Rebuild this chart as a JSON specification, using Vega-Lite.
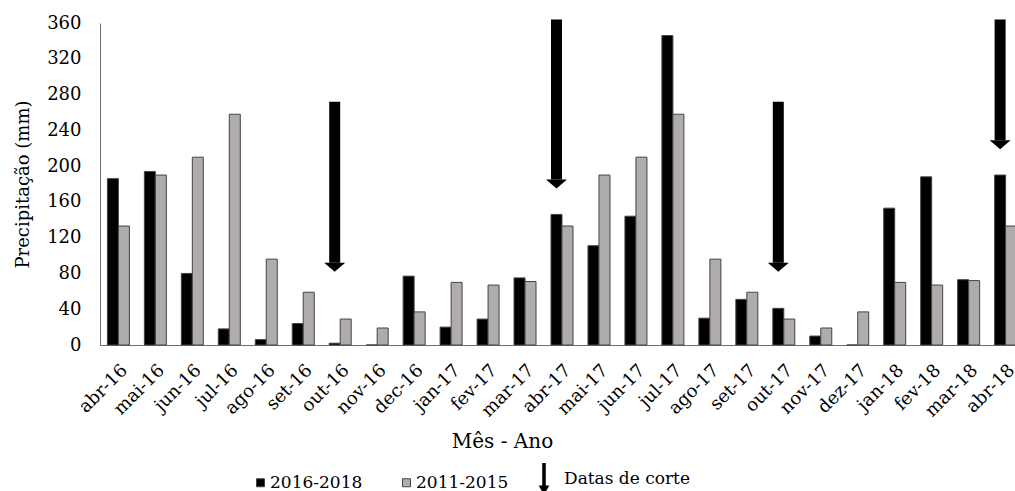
{
  "$schema": "https://vega.github.io/schema/vega-lite/v6.json",
  "width": 915,
  "height": 322,
  "autosize": {"type": "none"},
  "padding": {"left": 100, "top": 23, "right": 0, "bottom": 146},
  "config": {
    "font": "DejaVu Serif",
    "view": {"stroke": null},
    "axis": {"labelColor": "black", "titleColor": "black", "titleFontWeight": "normal", "domainColor": "#6e6e6e", "ticks": false, "tickSize": 0, "grid": false, "labelOverlap": false},
    "axisY": {"labelOverlap": false, "labelFlush": false}
  },
  "datasets": {
    "chuva": [
      {"mes": "abr-16", "serie": "2016-2018", "valor": 186}, {"mes": "abr-16", "serie": "2011-2015", "valor": 133},
      {"mes": "mai-16", "serie": "2016-2018", "valor": 194}, {"mes": "mai-16", "serie": "2011-2015", "valor": 190},
      {"mes": "jun-16", "serie": "2016-2018", "valor": 80}, {"mes": "jun-16", "serie": "2011-2015", "valor": 210},
      {"mes": "jul-16", "serie": "2016-2018", "valor": 18}, {"mes": "jul-16", "serie": "2011-2015", "valor": 258},
      {"mes": "ago-16", "serie": "2016-2018", "valor": 6}, {"mes": "ago-16", "serie": "2011-2015", "valor": 96},
      {"mes": "set-16", "serie": "2016-2018", "valor": 24}, {"mes": "set-16", "serie": "2011-2015", "valor": 59},
      {"mes": "out-16", "serie": "2016-2018", "valor": 2}, {"mes": "out-16", "serie": "2011-2015", "valor": 29},
      {"mes": "nov-16", "serie": "2016-2018", "valor": 0}, {"mes": "nov-16", "serie": "2011-2015", "valor": 19},
      {"mes": "dec-16", "serie": "2016-2018", "valor": 77}, {"mes": "dec-16", "serie": "2011-2015", "valor": 37},
      {"mes": "jan-17", "serie": "2016-2018", "valor": 20}, {"mes": "jan-17", "serie": "2011-2015", "valor": 70},
      {"mes": "fev-17", "serie": "2016-2018", "valor": 29}, {"mes": "fev-17", "serie": "2011-2015", "valor": 67},
      {"mes": "mar-17", "serie": "2016-2018", "valor": 75}, {"mes": "mar-17", "serie": "2011-2015", "valor": 71},
      {"mes": "abr-17", "serie": "2016-2018", "valor": 146}, {"mes": "abr-17", "serie": "2011-2015", "valor": 133},
      {"mes": "mai-17", "serie": "2016-2018", "valor": 111}, {"mes": "mai-17", "serie": "2011-2015", "valor": 190},
      {"mes": "jun-17", "serie": "2016-2018", "valor": 144}, {"mes": "jun-17", "serie": "2011-2015", "valor": 210},
      {"mes": "jul-17", "serie": "2016-2018", "valor": 346}, {"mes": "jul-17", "serie": "2011-2015", "valor": 258},
      {"mes": "ago-17", "serie": "2016-2018", "valor": 30}, {"mes": "ago-17", "serie": "2011-2015", "valor": 96},
      {"mes": "set-17", "serie": "2016-2018", "valor": 51}, {"mes": "set-17", "serie": "2011-2015", "valor": 59},
      {"mes": "out-17", "serie": "2016-2018", "valor": 41}, {"mes": "out-17", "serie": "2011-2015", "valor": 29},
      {"mes": "nov-17", "serie": "2016-2018", "valor": 10}, {"mes": "nov-17", "serie": "2011-2015", "valor": 19},
      {"mes": "dez-17", "serie": "2016-2018", "valor": 0}, {"mes": "dez-17", "serie": "2011-2015", "valor": 37},
      {"mes": "jan-18", "serie": "2016-2018", "valor": 153}, {"mes": "jan-18", "serie": "2011-2015", "valor": 70},
      {"mes": "fev-18", "serie": "2016-2018", "valor": 188}, {"mes": "fev-18", "serie": "2011-2015", "valor": 67},
      {"mes": "mar-18", "serie": "2016-2018", "valor": 73}, {"mes": "mar-18", "serie": "2011-2015", "valor": 72},
      {"mes": "abr-18", "serie": "2016-2018", "valor": 190}, {"mes": "abr-18", "serie": "2011-2015", "valor": 133}
    ],
    "setas": [
      {"mes": "out-16", "serie": "2016-2018", "topo": 272, "base": 92, "legenda": "Datas de corte"},
      {"mes": "abr-17", "serie": "2016-2018", "topo": 364, "base": 185, "legenda": "Datas de corte"},
      {"mes": "out-17", "serie": "2016-2018", "topo": 272, "base": 92, "legenda": "Datas de corte"},
      {"mes": "abr-18", "serie": "2016-2018", "topo": 364, "base": 229, "legenda": "Datas de corte"}
    ]
  },
  "layer": [
    {
      "data": {"name": "chuva"},
      "mark": {"type": "bar", "stroke": "#444444", "strokeWidth": 1},
      "encoding": {
        "x": {
          "field": "mes", "type": "nominal",
          "scale": {
            "domain": ["abr-16","mai-16","jun-16","jul-16","ago-16","set-16","out-16","nov-16","dec-16","jan-17","fev-17","mar-17","abr-17","mai-17","jun-17","jul-17","ago-17","set-17","out-17","nov-17","dez-17","jan-18","fev-18","mar-18","abr-18"],
            "range": [0, 924], "paddingInner": 0.405, "paddingOuter": 0.2
          },
          "axis": {"title": "Mês - Ano", "titleFontSize": 20, "titleX": 402, "titleY": 96, "titleBaseline": "middle", "labelAngle": -45, "labelFontSize": 18, "labelPadding": 16, "labelDx": -4, "labelOverlap": false}
        },
        "xOffset": {"field": "serie", "type": "nominal", "scale": {"domain": ["2016-2018", "2011-2015"], "paddingInner": 0, "paddingOuter": 0}},
        "y": {
          "field": "valor", "type": "quantitative",
          "scale": {"domain": [0, 360], "nice": false},
          "axis": {"title": "Precipitação (mm)", "titleFontSize": 18, "titlePadding": 14, "labelFontSize": 18, "labelPadding": 19, "labelOverlap": false, "labelFlush": false, "values": [0, 40, 80, 120, 160, 200, 240, 280, 320, 360]}
        },
        "color": {
          "field": "serie", "type": "nominal",
          "scale": {"domain": ["2016-2018", "2011-2015"], "range": ["#000000", "#b0acab"]},
          "legend": {"orient": "none", "legendX": 152, "legendY": 451, "direction": "horizontal", "title": null, "symbolType": "square", "symbolSize": 64, "symbolStrokeColor": "#444444", "symbolStrokeWidth": 1, "labelFontSize": 17, "labelColor": "black", "labelOffset": 1, "columnPadding": 35, "padding": 0}
        }
      }
    },
    {
      "data": {"name": "setas"},
      "mark": {"type": "bar", "color": "black"},
      "encoding": {
        "x": {"field": "mes", "type": "nominal"},
        "xOffset": {"field": "serie", "type": "nominal"},
        "y": {"field": "topo", "type": "quantitative", "axis": {"title": "Precipitação (mm)", "titleFontSize": 18, "titlePadding": 14, "labelFontSize": 18, "labelPadding": 19, "labelOverlap": false, "labelFlush": false, "values": [0, 40, 80, 120, 160, 200, 240, 280, 320, 360]}},
        "y2": {"field": "base"}
      }
    },
    {
      "data": {"name": "setas"},
      "mark": {"type": "point", "shape": "M-1,0L1,0L0,0.86Z", "size": 441, "filled": true, "color": "black"},
      "encoding": {
        "x": {"field": "mes", "type": "nominal"},
        "xOffset": {"field": "serie", "type": "nominal"},
        "y": {"field": "base", "type": "quantitative", "axis": {"title": "Precipitação (mm)", "titleFontSize": 18, "titlePadding": 14, "labelFontSize": 18, "labelPadding": 19, "labelOverlap": false, "labelFlush": false, "values": [0, 40, 80, 120, 160, 200, 240, 280, 320, 360]}},
        "opacity": {
          "field": "legenda", "type": "nominal",
          "scale": {"range": [1]},
          "legend": {"orient": "none", "legendX": 428, "legendY": 440, "title": null, "symbolType": "M-0.11,-1H0.11V0.4H0.33L0,1L-0.33,0.4H-0.11Z", "symbolSize": 1024, "symbolFillColor": "black", "symbolStrokeColor": "black", "symbolStrokeWidth": 0, "symbolOpacity": 1, "labelFontSize": 17, "labelColor": "black", "labelOffset": 4, "padding": 0}
        }
      }
    }
  ]
}
